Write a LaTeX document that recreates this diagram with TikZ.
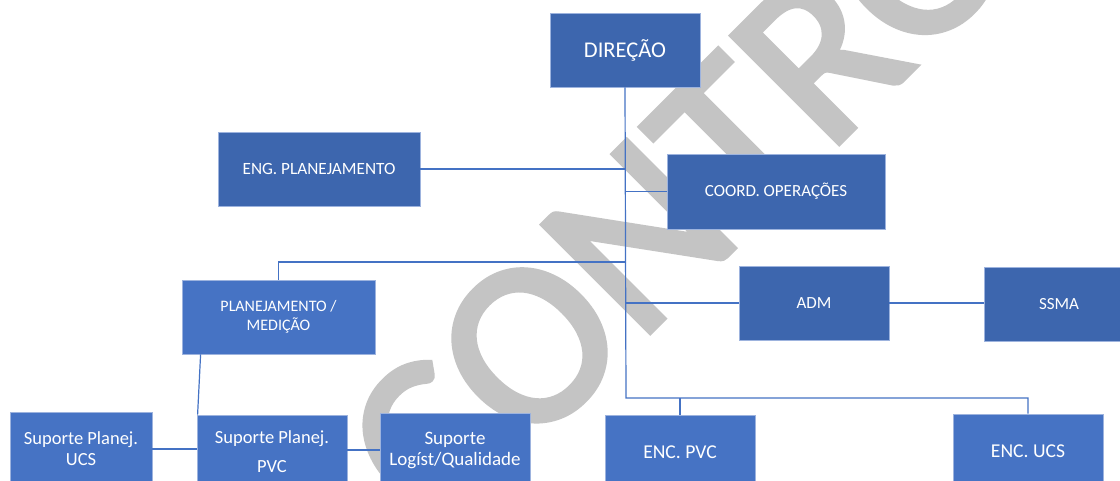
\documentclass[tikz,border=0pt]{standalone}
\usepackage{fontspec}
\setmainfont{Carlito}
\newfontfamily\wmfont[FakeBold=2.5]{Carlito}
\definecolor{darkbox}{HTML}{3D66AE}
\definecolor{lightbox}{HTML}{4673C4}
\definecolor{edgecol}{HTML}{9DB3DE}
\definecolor{linecol}{HTML}{4472C4}
\definecolor{wmcol}{HTML}{C4C4C4}
\begin{document}
\begin{tikzpicture}[x=1pt,y=-1pt,
  box/.style={rectangle, draw=edgecol, line width=0.8pt, text=white, align=center, inner sep=0pt, minimum height=74pt},
  dbox/.style={box, fill=darkbox},
  lbox/.style={box, fill=lightbox},
  link/.style={draw=linecol, line width=1.2pt}]
\clip (0,0) rectangle (1120,481);
\fill[white] (0,0) rectangle (1120,481);
% watermark
\node[rotate=45, anchor=base west, inner sep=0pt, text=wmcol, font=\wmfont\fontsize{236}{236}\selectfont] (wm) at (440,542) {CONTRO};
% boxes
\node[dbox, minimum width=150pt, font=\fontsize{22.5}{26}\selectfont] (dir) at (625,50) {DIREÇÃO};
\node[dbox, minimum width=202pt, font=\fontsize{17.2}{20}\selectfont] (eng) at (319,169) {ENG. PLANEJAMENTO};
\node[dbox, minimum width=218pt, minimum height=75pt, font=\fontsize{17}{20}\selectfont] (coord) at (776,191.5) {COORD. OPERAÇÕES};
\node[lbox, minimum width=193pt, font=\fontsize{16}{19}\selectfont] (plan) at (278.5,317) {PLANEJAMENTO /\\MEDIÇÃO};
\node[dbox, minimum width=150pt, font=\fontsize{17}{20}\selectfont] (adm) at (814,303) {ADM};
\node[dbox, minimum width=150pt, font=\fontsize{17}{20}\selectfont] (ssma) at (1059,304) {SSMA};
\node[lbox, minimum width=142pt, font=\fontsize{18.5}{21}\selectfont] (supucs) at (81,449) {Suporte Planej.\\UCS};
\node[lbox, minimum width=150pt, font=\fontsize{18.5}{29}\selectfont] (suppvc) at (272,452) {Suporte Planej.\\PVC};
\node[lbox, minimum width=150pt, font=\fontsize{19}{21}\selectfont] (suplog) at (455,450) {Suporte\\Logíst/Qualidade};
\node[lbox, minimum width=150pt, font=\fontsize{19.6}{22}\selectfont] (encp) at (680,452) {ENC. PVC};
\node[lbox, minimum width=150pt, font=\fontsize{19.6}{22}\selectfont] (encu) at (1028,451) {ENC. UCS};
% junction coordinates
\coordinate (pj) at (626,262);
\coordinate (busL) at (626,398);
\coordinate (busR) at (1028,398);
% connectors
\path[link] (dir.south) -- (busL) -- (busR) -- (encu.north);
\path[link] (busL -| encp.north) -- (encp.north);
\path[link] (eng.east) -- (eng.east -| busL);
\path[link] (coord.west) -- (coord.west -| busL);
\path[link] (pj) -| (plan.north);
\path[link] (adm.west) -- (adm.west -| busL);
\path[link] (adm.east) -- (adm.east -| ssma.west);
\path[link] ([xshift=19pt]plan.south west) -- ([xshift=1pt]suppvc.north west);
\path[link] (supucs.east) -- (supucs.east -| suppvc.west);
\path[link] (suppvc.east |- suplog.west) -- (suplog.west);
\end{tikzpicture}
\end{document}
